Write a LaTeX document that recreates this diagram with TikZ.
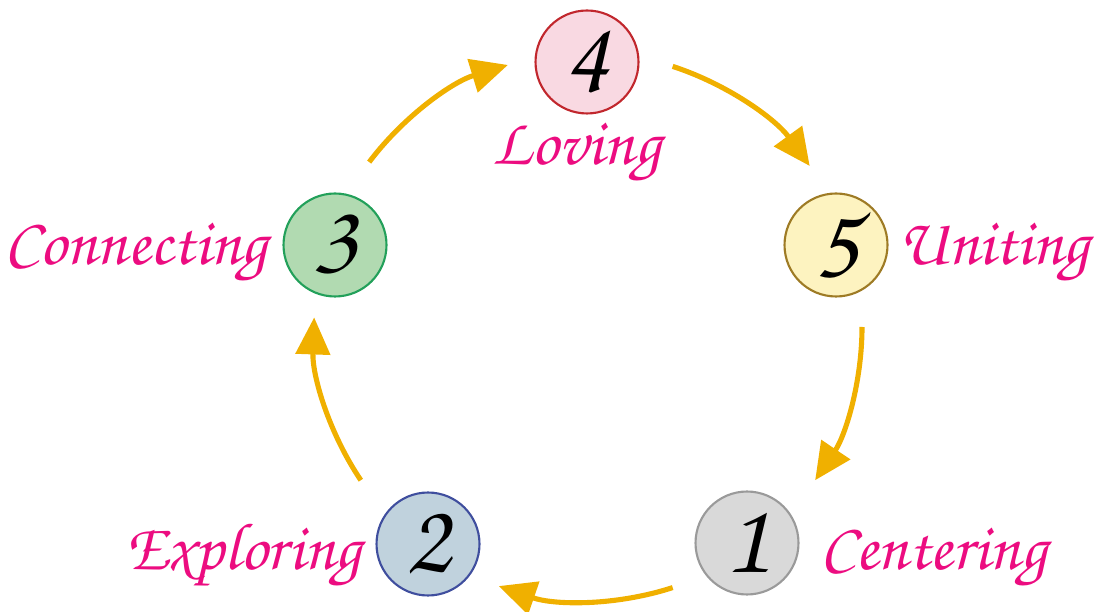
\documentclass[tikz,border=0pt]{standalone}
\usepackage{fontspec}
\newfontfamily\chorusfont{TeX Gyre Chorus}
\usetikzlibrary{arrows.meta,calc}
\definecolor{arrowc}{HTML}{F0B000}
\definecolor{labelc}{HTML}{EC0C80}
\definecolor{f4}{HTML}{F9D9E2}\definecolor{b4}{HTML}{C1272D}
\definecolor{f5}{HTML}{FDF3C0}\definecolor{b5}{HTML}{9E7B25}
\definecolor{f1}{HTML}{D9D9D9}\definecolor{b1}{HTML}{9A9A9A}
\definecolor{f2}{HTML}{C0D2DD}\definecolor{b2}{HTML}{3F4E9E}
\definecolor{f3}{HTML}{B1DAB1}\definecolor{b3}{HTML}{22A05A}
\tikzset{
  stage/.style={circle, draw, line width=1.2pt, minimum size=2.06cm, inner sep=0pt,
    font=\chorusfont\fontsize{58}{58}\selectfont},
  lbl/.style={text=labelc, inner sep=0pt, font=\chorusfont\fontsize{38}{38}\selectfont},
  flow/.style={draw=arrowc, line width=2.9pt,
    -{Triangle[length=0.74cm, width=0.68cm]}}
}
\begin{document}
\begin{tikzpicture}[x=0.02cm, y=0.02cm]
\useasboundingbox (0,0) rectangle (1097,611);
\coordinate (c) at (588,284);
\node[stage, fill=f4, draw=b4] (n4) at (587,549) {4};
\node[stage, fill=f5, draw=b5] (n5) at (836,366) {5};
\node[stage, fill=f1, draw=b1] (n1) at (747,68) {1};
\node[stage, fill=f2, draw=b2] (n2) at (428,67) {2};
\node[stage, fill=f3, draw=b3] (n3) at (335,366) {3};
\node[lbl, anchor=base] (l4) at (577,446) {Loving};
\node[lbl, anchor=base east] (l5) at (1090,346) {Uniting};
\node[lbl, anchor=base west] (l1) at (820,41) {Centering};
\node[lbl, anchor=base east] (l2) at (362,41) {Exploring};
\node[lbl, anchor=base east] (l3) at (268,346) {Connecting};
\coordinate (s45) at ($(c)+(72:274)$);
\coordinate (s51) at ($(c)+(0:274)$);
\coordinate (s12) at ($(c)+(-72:274)$);
\coordinate (s23) at ($(c)+(214:274)$);
\coordinate (s34) at ($(c)+(143:274)$);
\draw[flow] (s45) arc[start angle=72, end angle=36, radius=274];
\draw[flow] (s51) arc[start angle=0, end angle=-34, radius=274];
\draw[flow] (s12) arc[start angle=-72, end angle=-109, radius=274];
\draw[flow] (s23) arc[start angle=214, end angle=178, radius=274];
\draw[flow] (s34) arc[start angle=143, end angle=107, radius=274];
\end{tikzpicture}
\end{document}
